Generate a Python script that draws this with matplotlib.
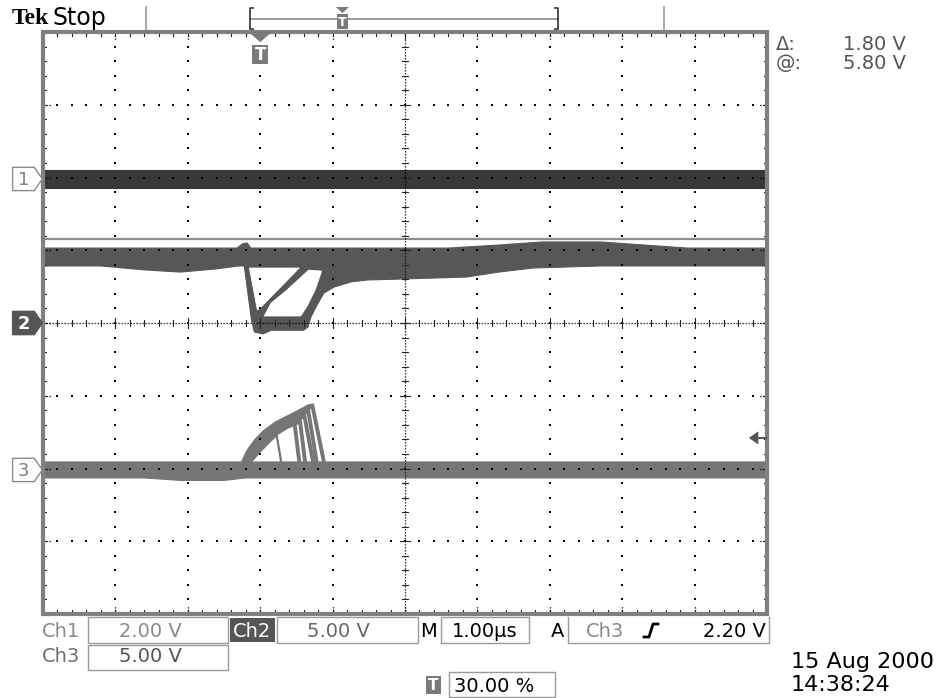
import numpy as np
import matplotlib.pyplot as plt
from matplotlib.patches import Polygon, Rectangle

# time in us relative to trigger (1 us/div, trigger at 30 %), values in volts
ch1_t = [-3.0, 7.0]
ch1_hi = [0.25, 0.25]
ch1_lo = [-0.25, -0.25]

ch2_top_t = [-3.0, -0.32, -0.24, -0.18, -0.13, 2.6, 3.3, 3.9, 4.7, 5.3, 5.9, 7.0]
ch2_top_v = [5.15, 5.15, 5.45, 5.5, 5.15, 5.15, 5.36, 5.57, 5.57, 5.36, 5.15, 5.15]
ch2_bot_t = [-3.0, -2.2, -1.6, -1.1, -0.6, -0.3, -0.22, -0.12, -0.08, 0.04, 0.15,
             0.60, 0.66, 0.70, 0.80, 0.88, 1.02, 1.25, 1.49, 1.94, 2.39, 2.85,
             3.31, 3.77, 4.24, 4.69, 7.0]
ch2_bot_v = [3.92, 3.92, 3.65, 3.5, 3.72, 3.92, 3.92, 0.2, -0.62, -0.75, -0.5,
             -0.5, -0.27, 0.41, 1.37, 2.06, 2.47, 2.82, 2.96, 3.02, 3.09, 3.16,
             3.51, 3.78, 3.85, 3.92, 3.92]
# gaps between the overlapping recovery traces
ch2_gap1_t = [-0.15, -0.04, 0.0, 0.54]
ch2_gap1_v = [3.78, 0.89, 1.03, 3.78]
ch2_gap2_t = [0.055, 0.56, 0.65, 0.76, 0.85, 0.67, 0.37, 0.15]
ch2_gap2_v = [0.48, 0.48, 1.17, 2.27, 3.57, 3.64, 2.27, 1.37]
ch2_cursor = 5.80

ch3_top_t = [-3.0, 7.0]
ch3_top_v = [0.55, 0.55]
ch3_bot_t = [-3.0, -1.6, -1.1, -0.5, -0.2, 7.0]
ch3_bot_v = [-0.55, -0.55, -0.72, -0.72, -0.55, -0.55]
ch3_arc_out_t = [-0.26, -0.18, -0.08, 0.04, 0.21, 0.40, 0.56, 0.66, 0.74]
ch3_arc_out_v = [0.55, 1.37, 2.06, 2.68, 3.30, 3.78, 4.19, 4.47, 4.54]
ch3_arc_in_t = [0.52, 0.39, 0.25, 0.11, -0.01, -0.12]
ch3_arc_in_v = [3.16, 2.89, 2.47, 1.79, 1.17, 0.55]
ch3_fall_t0 = [0.22, 0.47, 0.54, 0.60, 0.66, 0.72]
ch3_fall_v0 = [2.60, 3.40, 3.75, 4.00, 4.20, 4.45]
ch3_fall_t1 = [0.29, 0.54, 0.62, 0.73, 0.78, 0.88]
ch3_fall_v1 = [0.55, 0.55, 0.55, 0.55, 0.55, 0.55]
trig_level = 2.20

# channel settings: (ground offset in divisions, volts per division)
ch1_off, ch1_scale = 1.98, 2.0
ch2_off, ch2_scale = 0.0, 5.0
ch3_off, ch3_scale = -2.02, 5.0
trig_pos = 3.0  # divisions from left edge


def to_div(t, v, off, scale):
    return np.asarray(t) + trig_pos, off + np.asarray(v) / scale


def band(ax, top_t, top_v, bot_t, bot_v, off, scale, color):
    xt, yt = to_div(top_t, top_v, off, scale)
    xb, yb = to_div(bot_t, bot_v, off, scale)
    xy = np.column_stack([np.r_[xt, xb[::-1]], np.r_[yt, yb[::-1]]])
    ax.add_patch(Polygon(xy, closed=True, fc=color, ec=color, lw=0.8, zorder=2))


def hole(ax, t, v, off, scale):
    x, y = to_div(t, v, off, scale)
    ax.add_patch(Polygon(np.column_stack([x, y]), closed=True, fc='white', ec='white',
                         lw=0.5, zorder=2.5))


fig = plt.figure(figsize=(9.38, 6.98), dpi=100, facecolor='white')
ov = fig.add_axes([0, 0, 1, 1])
ov.set_xlim(0, 938)
ov.set_ylim(698, 0)
ov.axis('off')

ax = fig.add_axes([43 / 938, 84 / 698, 724 / 938, 582 / 698])
ax.set_xlim(0, 10)
ax.set_ylim(-4, 4)
ax.axis('off')

c1, c2, c3 = '#383838', '#575757', '#767676'
px = 0.0138  # one pixel in divisions

# traces
band(ax, ch1_t, ch1_hi, ch1_t, ch1_lo, ch1_off, ch1_scale, c1)
band(ax, ch2_top_t, ch2_top_v, ch2_bot_t, ch2_bot_v, ch2_off, ch2_scale, c2)
hole(ax, ch2_gap1_t, ch2_gap1_v, ch2_off, ch2_scale)
hole(ax, ch2_gap2_t, ch2_gap2_v, ch2_off, ch2_scale)
band(ax, ch3_top_t, ch3_top_v, ch3_bot_t, ch3_bot_v, ch3_off, ch3_scale, c3)
band(ax, ch3_arc_out_t, ch3_arc_out_v, ch3_arc_in_t[::-1], ch3_arc_in_v[::-1],
     ch3_off, ch3_scale, c3)
for t0, v0, t1, v1 in zip(ch3_fall_t0, ch3_fall_v0, ch3_fall_t1, ch3_fall_v1):
    x, y = to_div([t0, t1], [v0, v1], ch3_off, ch3_scale)
    ax.plot(x, y, color=c3, lw=2.8 if t0 > 0.3 else 1.6, solid_capstyle='butt', zorder=2)

# cursor line
_, ycur = to_div([0], [ch2_cursor], ch2_off, ch2_scale)
ax.axhline(ycur[0], color='#8c8c8c', lw=1.6, zorder=3)

# graticule
minor = np.arange(0, 51) / 5
ymin = np.arange(-20, 21) / 5
for xi in [1, 2, 3, 4, 6, 7, 8, 9]:
    ax.scatter(np.full(ymin.size, xi), ymin, s=2.2, marker='s', color='black', lw=0, zorder=4)
for yi in [-3, -2, -1, 1, 2, 3]:
    ax.scatter(minor, np.full(minor.size, yi), s=2.2, marker='s', color='black', lw=0, zorder=4)
ax.plot([0, 10], [0, 0], color='black', lw=0.9, ls=(0, (1, 1.4)), zorder=4)
ax.plot([5, 5], [-4, 4], color='black', lw=0.9, ls=(0, (1, 1.4)), zorder=4)
for xm in minor:
    h = 5 * px if abs(xm - round(xm)) < 1e-6 else 3 * px
    ax.plot([xm, xm], [-h, h], color='#222222', lw=0.8, zorder=4)
    ax.plot([xm, xm], [-4, -4 + 3.5 * px], color='#222222', lw=0.8, zorder=4)
    ax.plot([xm, xm], [4, 4 - 3.5 * px], color='#222222', lw=0.8, zorder=4)
for ym in ymin:
    h = 5 * px if abs(ym - round(ym)) < 1e-6 else 3 * px
    ax.plot([5 - h, 5 + h], [ym, ym], color='#222222', lw=0.8, zorder=4)
    ax.plot([0, 3.5 * px], [ym, ym], color='#222222', lw=0.8, zorder=4)
    ax.plot([10, 10 - 3.5 * px], [ym, ym], color='#222222', lw=0.8, zorder=4)
for xi in range(1, 10):
    ax.plot([xi, xi], [4, 4 - 9 * px], color='black', lw=0.9, ls=(0, (1, 1.4)), zorder=4)
    ax.plot([xi, xi], [-4, -4 + 9 * px], color='black', lw=0.9, ls=(0, (1, 1.4)), zorder=4)
for yi in range(-3, 4):
    ax.plot([0, 9 * px], [yi, yi], color='black', lw=0.9, ls=(0, (1, 1.4)), zorder=4)
    ax.plot([10, 10 - 9 * px], [yi, yi], color='black', lw=0.9, ls=(0, (1, 1.4)), zorder=4)
ax.add_patch(Rectangle((0, -4), 10, 8, fill=False, ec='#808080', lw=3, zorder=5, clip_on=False))

# channel ground markers
for off, lab, filled in [(ch1_off, '1', False), (ch2_off, '2', True), (ch3_off, '3', False)]:
    xy = [(-0.42, off - 0.16), (-0.12, off - 0.16), (-0.01, off), (-0.12, off + 0.16),
          (-0.42, off + 0.16)]
    ax.add_patch(Polygon(xy, closed=True, fc='#555555' if filled else 'white',
                         ec='#555555' if filled else '#8a8a8a', lw=1, zorder=6, clip_on=False))
    ax.text(-0.27, off - 0.01, lab, color='white' if filled else '#808080', fontsize=13,
            ha='center', va='center', fontweight='bold' if filled else 'normal', zorder=7)

# trigger position and level markers
ax.add_patch(Polygon([(trig_pos - 0.16, 4), (trig_pos + 0.16, 4), (trig_pos, 4 - 0.14)],
                     closed=True, fc='#7a7a7a', ec='none', zorder=6))
ax.add_patch(Rectangle((trig_pos - 0.11, 3.56), 0.22, 0.26, fc='#7a7a7a', ec='none', zorder=6))
ax.text(trig_pos, 3.69, 'T', color='white', fontsize=12, fontweight='bold', ha='center',
        va='center', zorder=7)
_, ytl = to_div([0], [trig_level], ch3_off, ch3_scale)
ax.add_patch(Polygon([(9.75, ytl[0]), (9.88, ytl[0] + 0.09), (9.88, ytl[0] - 0.09)],
                     closed=True, fc='#555555', ec='none', zorder=6))
ax.plot([9.88, 10], [ytl[0], ytl[0]], color='#555555', lw=1.5, zorder=6)

# header
ov.text(12, 24, 'Tek', family='Liberation Serif', fontweight='bold', fontsize=17, va='baseline')
ov.text(52, 25, 'Stop', family='DejaVu Sans', fontsize=17, va='baseline')
ov.plot([146, 146], [7, 31], color='#9a9a9a', lw=1.2)
ov.plot([664, 664], [7, 31], color='#9a9a9a', lw=1.2)
ov.plot([251, 558], [19, 19], color='#8a8a8a', lw=1.2)
ov.plot([253, 250, 250, 253], [8, 8, 29, 29], color='#333333', lw=1.2)
ov.plot([555, 558, 558, 555], [8, 8, 29, 29], color='#333333', lw=1.2)
ov.add_patch(Polygon([(336, 7), (349, 7), (342.5, 13)], closed=True, fc='#7a7a7a', ec='none'))
ov.add_patch(Rectangle((337, 14), 11, 15, fc='#7a7a7a', ec='none'))
ov.text(342.5, 22, 'T', color='white', fontsize=9, fontweight='bold', ha='center', va='center')

# measurement readout
ov.text(776, 50, '\u0394:', color='#555555', fontsize=14, va='baseline')
ov.text(906, 50, '1.80 V', color='#555555', fontsize=14, va='baseline', ha='right')
ov.text(776, 69, '@:', color='#555555', fontsize=14, va='baseline')
ov.text(906, 69, '5.80 V', color='#555555', fontsize=14, va='baseline', ha='right')

# bottom status line
box = dict(fill=False, ec='#9a9a9a', lw=1)
ov.text(42, 637, 'Ch1', color='#8a8a8a', fontsize=14, va='baseline')
ov.add_patch(Rectangle((88, 617), 140, 26, **box))
ov.text(150, 637, '2.00 V', color='#8a8a8a', fontsize=14, va='baseline', ha='center')
ov.add_patch(Rectangle((230, 618), 45, 24, fc='#555555', ec='none'))
ov.text(252.5, 637, 'Ch2', color='white', fontsize=14, va='baseline', ha='center')
ov.add_patch(Rectangle((277, 617), 141, 26, **box))
ov.text(338, 637, '5.00 V', color='#666666', fontsize=14, va='baseline', ha='center')
ov.text(420, 637, 'M', color='black', fontsize=14, va='baseline')
ov.add_patch(Rectangle((441, 617), 88, 26, **box))
ov.text(485, 637, '1.00\u00b5s', color='black', fontsize=14, va='baseline', ha='center')
ov.text(551, 637, 'A', color='black', fontsize=14, va='baseline')
ov.plot([568, 568, 769, 769], [617, 643, 643, 617], color='#9a9a9a', lw=1)
ov.text(586, 637, 'Ch3', color='#8a8a8a', fontsize=14, va='baseline')
ov.plot([644, 649, 653, 658], [637, 637, 624, 624], color='black', lw=2)
ov.text(766, 637, '2.20 V', color='black', fontsize=14, va='baseline', ha='right')

ov.text(42, 662, 'Ch3', color='#6e6e6e', fontsize=14, va='baseline')
ov.add_patch(Rectangle((88, 645), 140, 25, **box))
ov.text(150, 662, '5.00 V', color='#555555', fontsize=14, va='baseline', ha='center')

ov.add_patch(Rectangle((426, 676), 15, 18, fc='#7a7a7a', ec='none'))
ov.text(433.5, 685.5, 'T', color='white', fontsize=11, fontweight='bold', ha='center', va='center')
ov.add_patch(Rectangle((449, 672), 106, 25, **box))
ov.text(454, 692, '30.00 %', color='black', fontsize=14, va='baseline')

ov.text(791, 668, '15 Aug 2000', color='black', fontsize=16, va='baseline')
ov.text(791, 691, '14:38:24', color='black', fontsize=16, va='baseline')

fig.savefig('out.png', dpi=100, facecolor='white')
